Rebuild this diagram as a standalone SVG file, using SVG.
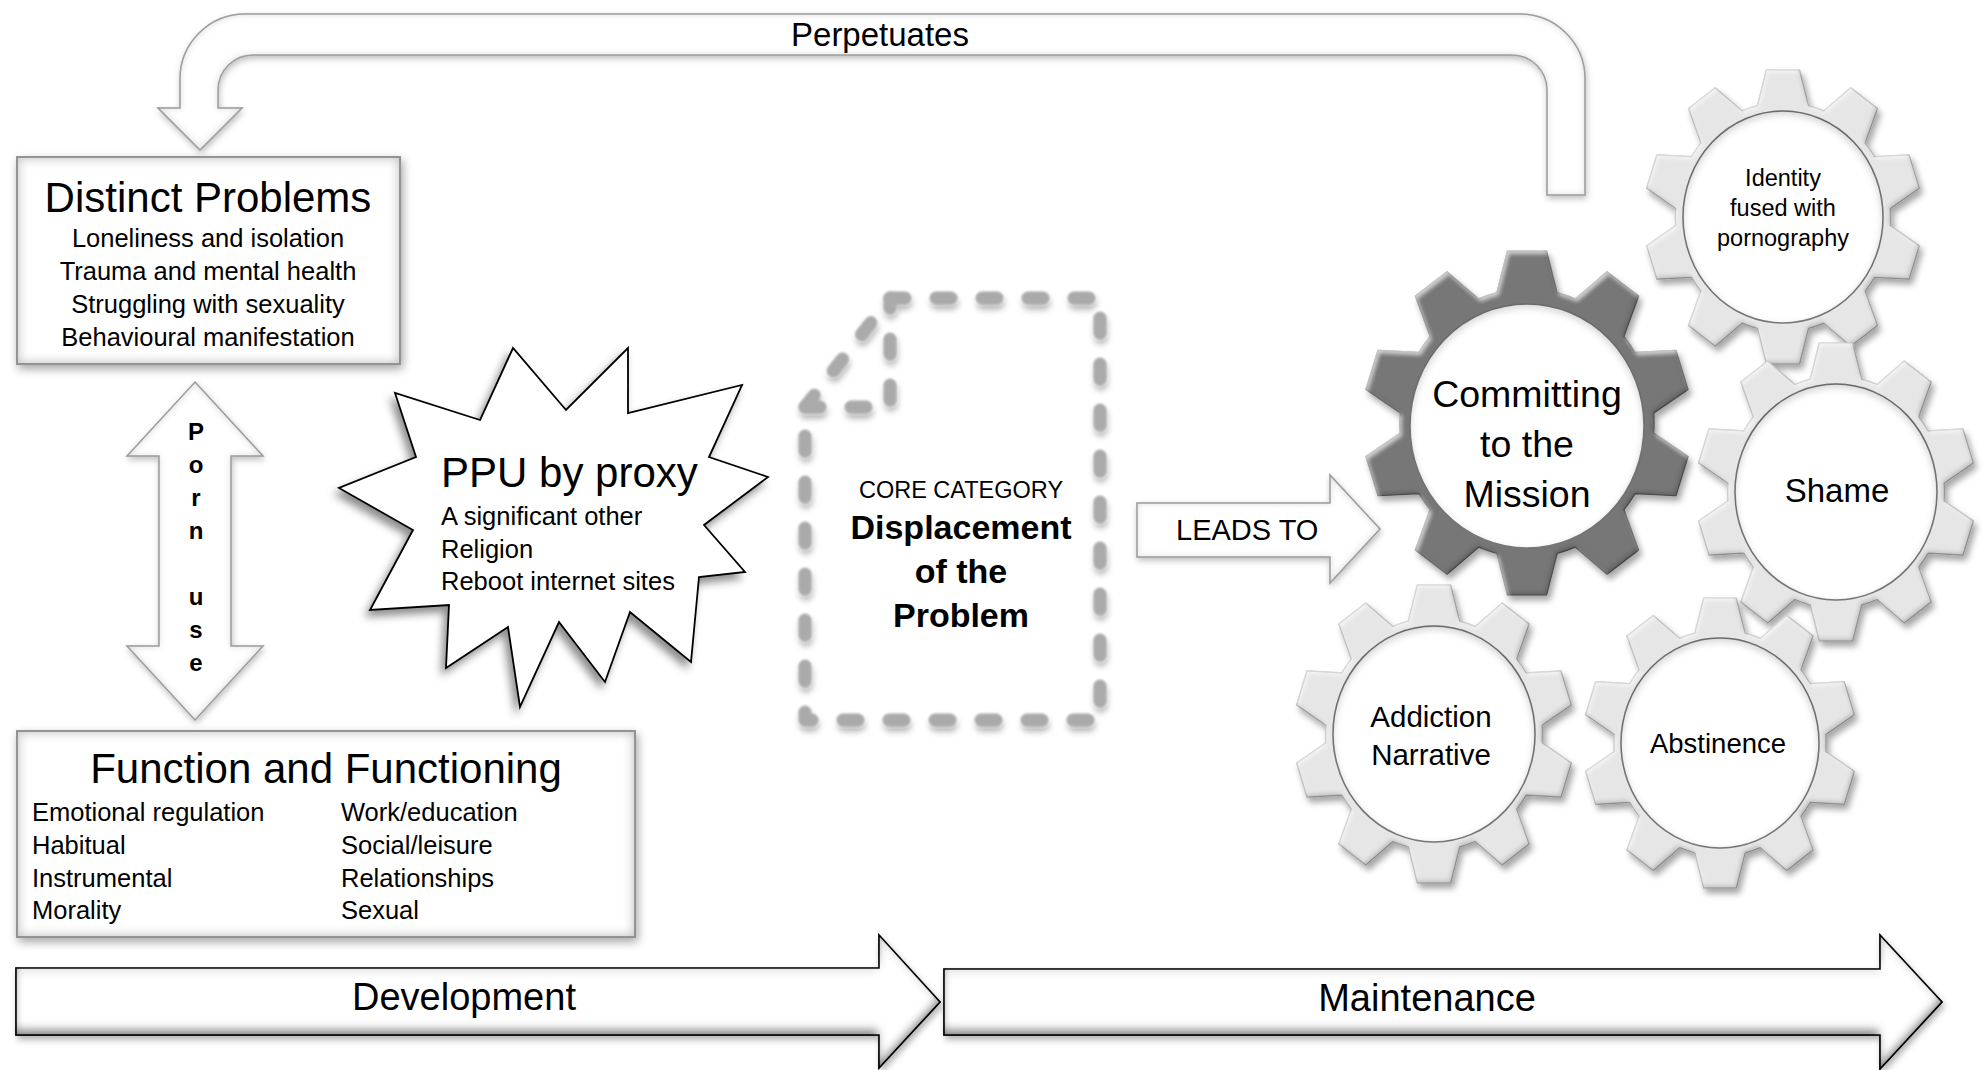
<svg xmlns="http://www.w3.org/2000/svg" xmlns:xlink="http://www.w3.org/1999/xlink" width="1986" height="1070" viewBox="0 0 1986 1070">
<style>
.t{font-family:"Liberation Sans",Arial,sans-serif;fill:#000}
.mid{text-anchor:middle}
.b{font-weight:bold}
.box{fill:#fff;stroke:#9a9a9a;stroke-width:2}
.garrow{fill:#fff;stroke:#9f9f9f;stroke-width:1.5}
.barrow{fill:#fff;stroke:#111;stroke-width:1.6}
.lg{fill:#e6e6e6;stroke:#a3a3a3;stroke-width:1.2;stroke-linejoin:round}
.dg{fill:#777;stroke:#4d4d4d;stroke-width:1.2;stroke-linejoin:round}
.hole{fill:#fff;stroke:#7d7d7d;stroke-width:1.5}
.dash{fill:none;stroke:#aaaaaa;stroke-width:13;stroke-linecap:round;stroke-linejoin:round;stroke-dasharray:15 31}
</style>
<defs>
<filter id="boxfx" x="-10%" y="-10%" width="120%" height="125%">
  <feGaussianBlur in="SourceAlpha" stdDeviation="5" result="sb"/>
  <feOffset in="sb" dx="2" dy="4" result="so"/>
  <feFlood flood-color="#000" flood-opacity="0.35"/>
  <feComposite in2="so" operator="in" result="shadow"/>
  <feMorphology in="SourceAlpha" operator="erode" radius="4" result="er"/>
  <feGaussianBlur in="er" stdDeviation="5" result="erb"/>
  <feComposite in="SourceAlpha" in2="erb" operator="out" result="ring"/>
  <feFlood flood-color="#8a8a8a" flood-opacity="0.55"/>
  <feComposite in2="ring" operator="in" result="glow"/>
  <feMerge><feMergeNode in="shadow"/><feMergeNode in="SourceGraphic"/><feMergeNode in="glow"/></feMerge>
</filter>
<filter id="softfx" x="-10%" y="-10%" width="120%" height="130%">
  <feGaussianBlur in="SourceAlpha" stdDeviation="3" result="sb"/>
  <feOffset in="sb" dx="1" dy="3" result="so"/>
  <feFlood flood-color="#000" flood-opacity="0.25"/>
  <feComposite in2="so" operator="in" result="shadow"/>
  <feMorphology in="SourceAlpha" operator="erode" radius="2" result="er"/>
  <feGaussianBlur in="er" stdDeviation="3" result="erb"/>
  <feComposite in="SourceAlpha" in2="erb" operator="out" result="ring"/>
  <feFlood flood-color="#9a9a9a" flood-opacity="0.35"/>
  <feComposite in2="ring" operator="in" result="glow"/>
  <feMerge><feMergeNode in="shadow"/><feMergeNode in="SourceGraphic"/><feMergeNode in="glow"/></feMerge>
</filter>
<filter id="starfx" x="-10%" y="-10%" width="120%" height="125%">
  <feGaussianBlur in="SourceAlpha" stdDeviation="4" result="sb"/>
  <feOffset in="sb" dx="-4" dy="6" result="so"/>
  <feFlood flood-color="#000" flood-opacity="0.45"/>
  <feComposite in2="so" operator="in" result="shadow"/>
  <feMerge><feMergeNode in="shadow"/><feMergeNode in="SourceGraphic"/></feMerge>
</filter>
<filter id="bevelfx" x="-5%" y="-20%" width="110%" height="150%">
  <feGaussianBlur in="SourceAlpha" stdDeviation="3" result="sb"/>
  <feOffset in="sb" dx="2" dy="4" result="so"/>
  <feFlood flood-color="#000" flood-opacity="0.3"/>
  <feComposite in2="so" operator="in" result="shadow"/>
  <feGaussianBlur in="SourceAlpha" stdDeviation="4" result="ib"/>
  <feOffset in="ib" dx="0" dy="-7" result="io"/>
  <feComposite in="SourceAlpha" in2="io" operator="out" result="inner"/>
  <feFlood flood-color="#000" flood-opacity="0.75"/>
  <feComposite in2="inner" operator="in" result="dark"/>
  <feOffset in="ib" dx="0" dy="4" result="io2"/>
  <feComposite in="SourceAlpha" in2="io2" operator="out" result="inner2"/>
  <feFlood flood-color="#000" flood-opacity="0.25"/>
  <feComposite in2="inner2" operator="in" result="dark2"/>
  <feMerge><feMergeNode in="shadow"/><feMergeNode in="SourceGraphic"/><feMergeNode in="dark"/><feMergeNode in="dark2"/></feMerge>
</filter>
<filter id="dashfx" x="-10%" y="-10%" width="120%" height="120%">
  <feGaussianBlur in="SourceGraphic" stdDeviation="0.8" result="soft"/>
  <feGaussianBlur in="SourceAlpha" stdDeviation="3" result="sb"/>
  <feOffset in="sb" dx="1" dy="5" result="so"/>
  <feFlood flood-color="#000" flood-opacity="0.3"/>
  <feComposite in2="so" operator="in" result="shadow"/>
  <feMerge><feMergeNode in="shadow"/><feMergeNode in="soft"/></feMerge>
</filter>
<filter id="gearfx" x="-15%" y="-15%" width="135%" height="135%">
  <feGaussianBlur in="SourceAlpha" stdDeviation="3" result="b"/>
  <feOffset in="b" dx="3" dy="5" result="o"/>
  <feFlood flood-color="#000" flood-opacity="0.35"/>
  <feComposite in2="o" operator="in" result="sh"/>
  <feGaussianBlur in="SourceAlpha" stdDeviation="2" result="b2"/>
  <feOffset in="b2" dx="-2" dy="-3" result="o2"/>
  <feComposite in="SourceAlpha" in2="o2" operator="out" result="edge"/>
  <feFlood flood-color="#000" flood-opacity="0.35"/>
  <feComposite in2="edge" operator="in" result="dark"/>
  <feOffset in="b2" dx="2" dy="3" result="o3"/>
  <feComposite in="SourceAlpha" in2="o3" operator="out" result="edge2"/>
  <feFlood flood-color="#fff" flood-opacity="0.6"/>
  <feComposite in2="edge2" operator="in" result="light"/>
  <feMerge><feMergeNode in="sh"/><feMergeNode in="SourceGraphic"/><feMergeNode in="light"/><feMergeNode in="dark"/></feMerge>
</filter>
<filter id="holefx" x="-10%" y="-10%" width="120%" height="120%">
  <feMorphology in="SourceAlpha" operator="erode" radius="2" result="er"/>
  <feGaussianBlur in="er" stdDeviation="3" result="erb"/>
  <feOffset in="erb" dx="0" dy="3" result="eo"/>
  <feComposite in="SourceAlpha" in2="eo" operator="out" result="ring"/>
  <feFlood flood-color="#000" flood-opacity="0.3"/>
  <feComposite in2="ring" operator="in" result="glow"/>
  <feMerge><feMergeNode in="SourceGraphic"/><feMergeNode in="glow"/></feMerge>
</filter>
<path id="gearshape" vector-effect="non-scaling-stroke" d="M-18.5,-75.77 L-12,-100 L12,-100 L18.5,-75.77 A78,78 0 0 1 29.57,-72.17 L49.07,-87.95 L68.49,-73.85 L59.51,-50.43 A78,78 0 0 1 66.34,-41.01 L91.4,-42.31 L98.82,-19.49 L77.78,-5.81 A78,78 0 0 1 77.78,5.81 L98.82,19.49 L91.4,42.31 L66.34,41.01 A78,78 0 0 1 59.51,50.43 L68.49,73.85 L49.07,87.95 L29.57,72.17 A78,78 0 0 1 18.5,75.77 L12,100 L-12,100 L-18.5,75.77 A78,78 0 0 1 -29.57,72.17 L-49.07,87.95 L-68.49,73.85 L-59.51,50.43 A78,78 0 0 1 -66.34,41.01 L-91.4,42.31 L-98.82,19.49 L-77.78,5.81 A78,78 0 0 1 -77.78,-5.81 L-98.82,-19.49 L-91.4,-42.31 L-66.34,-41.01 A78,78 0 0 1 -59.51,-50.43 L-68.49,-73.85 L-49.07,-87.95 L-29.57,-72.17 A78,78 0 0 1 -18.5,-75.77 Z"/>
</defs>

<rect width="1986" height="1070" fill="#fff"/>

<g id="connectors">
  <g id="perpetuates">
    <path class="garrow" filter="url(#softfx)" d="M1547,195 L1547,90 A35,35 0 0 0 1512,55 L253,55 A35,35 0 0 0 218,90 L218,108 L242,108 L200,150 L158,108 L180,108 L180,79 A65,65 0 0 1 245,14 L1520,14 A65,65 0 0 1 1585,79 L1585,195 Z"/>
    <text class="t mid" x="880" y="46" font-size="33">Perpetuates</text>
  </g>
  <g id="porn-use">
    <path class="garrow" filter="url(#softfx)" d="M195,382 L263,456 L231,456 L231,646 L263,646 L195,720 L127,646 L159,646 L159,456 L127,456 Z"/>
    <g class="t b mid" font-size="24">
      <text x="196" y="440">P</text>
      <text x="196" y="473">o</text>
      <text x="196" y="506">r</text>
      <text x="196" y="539">n</text>
      <text x="196" y="605">u</text>
      <text x="196" y="638">s</text>
      <text x="196" y="671">e</text>
    </g>
  </g>
  <g id="leads-to">
    <path class="garrow" filter="url(#softfx)" d="M1137,503 L1330,503 L1330,475 L1380,529 L1330,583 L1330,557 L1137,557 Z"/>
    <text class="t" x="1176" y="540" font-size="29">LEADS TO</text>
  </g>
  <g id="development">
    <path class="barrow" filter="url(#bevelfx)" d="M16,968 L879,968 L879,935 L940,1002 L879,1068 L879,1035 L16,1035 Z"/>
    <text class="t mid" x="464" y="1010" font-size="38">Development</text>
  </g>
  <g id="maintenance">
    <path class="barrow" filter="url(#bevelfx)" d="M944,969 L1880,969 L1880,935 L1942,1002 L1880,1069 L1880,1035 L944,1035 Z"/>
    <text class="t mid" x="1427" y="1011" font-size="38">Maintenance</text>
  </g>
</g>

<g id="distinct-problems">
  <rect class="box" filter="url(#boxfx)" x="17" y="157" width="383" height="207"/>
  <text class="t mid" x="208" y="212" font-size="42">Distinct Problems</text>
  <g class="t mid" font-size="25.5">
    <text x="208" y="247">Loneliness and isolation</text>
    <text x="208" y="280">Trauma and mental health</text>
    <text x="208" y="313">Struggling with sexuality</text>
    <text x="208" y="346">Behavioural manifestation</text>
  </g>
</g>

<g id="function-functioning">
  <rect class="box" filter="url(#boxfx)" x="17" y="731" width="618" height="206"/>
  <text class="t mid" x="326" y="783" font-size="42">Function and Functioning</text>
  <g class="t" font-size="25.5">
    <text x="32" y="821">Emotional regulation</text>
    <text x="32" y="854">Habitual</text>
    <text x="32" y="887">Instrumental</text>
    <text x="32" y="919">Morality</text>
    <text x="341" y="821">Work/education</text>
    <text x="341" y="854">Social/leisure</text>
    <text x="341" y="887">Relationships</text>
    <text x="341" y="919">Sexual</text>
  </g>
</g>

<g id="ppu-by-proxy">
  <polygon filter="url(#starfx)" fill="#fff" stroke="#000" stroke-width="1.8" stroke-linejoin="miter" points="480,420 513,348 566,410 628,348 628,413 742,385 709,457 768,477 704,525 745,572 699,577 691,662 630,612 605,682 559,622 520,707 508,627 446,668 449,605 370,610 413,530 339,488 416,457 395,393"/>
  <text class="t" x="441" y="487" font-size="42">PPU by proxy</text>
  <g class="t" font-size="25.5">
    <text x="441" y="525">A significant other</text>
    <text x="441" y="558">Religion</text>
    <text x="441" y="590">Reboot internet sites</text>
  </g>
</g>

<g id="core-category">
  <g filter="url(#dashfx)">
    <path class="dash" d="M890,298 L1100,298 L1100,720 L805,720 L805,407"/>
    <path class="dash" d="M805,407 L890,407 L890,298"/>
    <path class="dash" d="M805,407 L890,298"/>
  </g>
  <text class="t mid" x="961" y="498" font-size="23.5">CORE CATEGORY</text>
  <g class="t b mid" font-size="34">
    <text x="961" y="539">Displacement</text>
    <text x="961" y="583">of the</text>
    <text x="961" y="627">Problem</text>
  </g>
</g>

<g id="gear-identity">
  <g filter="url(#gearfx)"><use xlink:href="#gearshape" class="lg" transform="translate(1783,217) scale(1.38,1.47)"/></g>
  <ellipse class="hole" filter="url(#holefx)" cx="1783" cy="217" rx="100" ry="106"/>
  <g class="t mid" font-size="23.5">
    <text x="1783" y="186">Identity</text>
    <text x="1783" y="216">fused with</text>
    <text x="1783" y="246">pornography</text>
  </g>
</g>

<g id="gear-shame">
  <g filter="url(#gearfx)"><use xlink:href="#gearshape" class="lg" transform="translate(1836,492) scale(1.39,1.49)"/></g>
  <ellipse class="hole" filter="url(#holefx)" cx="1836" cy="492" rx="101" ry="108"/>
  <text class="t mid" x="1837" y="502" font-size="33">Shame</text>
</g>

<g id="gear-abstinence">
  <g filter="url(#gearfx)"><use xlink:href="#gearshape" class="lg" transform="translate(1720,743) scale(1.36,1.45)"/></g>
  <ellipse class="hole" filter="url(#holefx)" cx="1720" cy="743" rx="99" ry="105"/>
  <text class="t mid" x="1718" y="753" font-size="27.5">Abstinence</text>
</g>

<g id="gear-addiction">
  <g filter="url(#gearfx)"><use xlink:href="#gearshape" class="lg" transform="translate(1434,734) scale(1.39,1.49)"/></g>
  <ellipse class="hole" filter="url(#holefx)" cx="1434" cy="734" rx="101" ry="108"/>
  <g class="t mid" font-size="29.5">
    <text x="1431" y="727">Addiction</text>
    <text x="1431" y="765">Narrative</text>
  </g>
</g>

<g id="gear-committing">
  <g filter="url(#gearfx)"><use xlink:href="#gearshape" class="dg" transform="translate(1527,423) scale(1.63,1.72)"/></g>
  <ellipse class="hole" filter="url(#holefx)" cx="1527" cy="426" rx="117" ry="122"/>
  <g class="t mid" font-size="37.5">
    <text x="1527" y="407">Committing</text>
    <text x="1527" y="457">to the</text>
    <text x="1527" y="507">Mission</text>
  </g>
</g>
</svg>
